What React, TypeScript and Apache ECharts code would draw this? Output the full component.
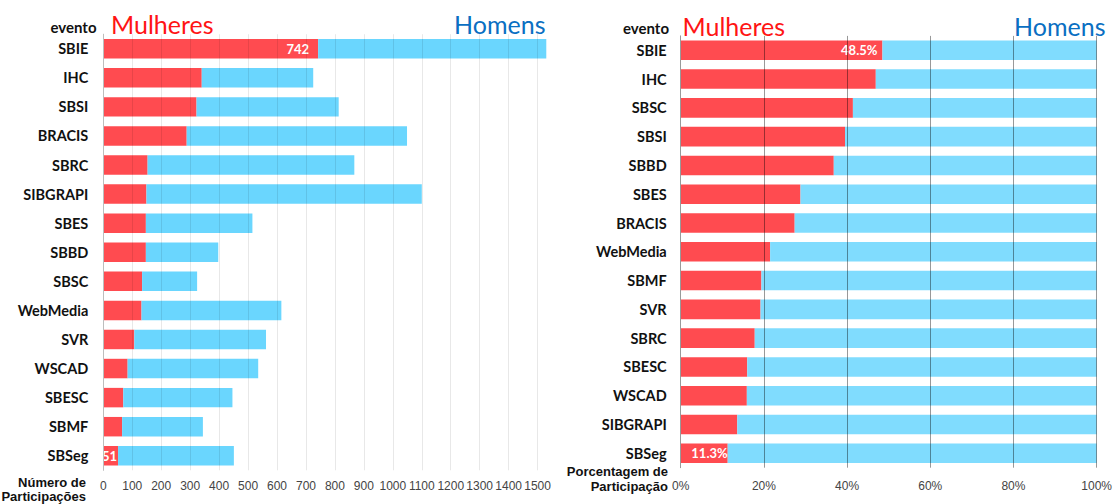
import React, { useEffect, useRef } from "react";
import * as echarts from "echarts";

// Left chart: number of participations
const countCategories = ["SBIE", "IHC", "SBSI", "BRACIS", "SBRC", "SIBGRAPI", "SBES", "SBBD", "SBSC", "WebMedia", "SVR", "WSCAD", "SBESC", "SBMF", "SBSeg"];
const womenCount = [742, 340, 322, 288, 153, 149, 147, 147, 134, 132, 107, 84, 69, 65, 51];
const menCount = [788, 385, 491, 761, 714, 951, 368, 250, 190, 483, 455, 451, 377, 279, 400];

// Right chart: percentage of participation
const pctCategories = ["SBIE", "IHC", "SBSC", "SBSI", "SBBD", "SBES", "BRACIS", "WebMedia", "SBMF", "SVR", "SBRC", "SBESC", "WSCAD", "SIBGRAPI", "SBSeg"];
const womenPct = [48.5, 46.9, 41.4, 39.5, 36.8, 28.8, 27.4, 21.5, 19.4, 19.2, 17.8, 16.0, 15.9, 13.6, 11.3];
const menPct = [51.5, 53.1, 58.6, 60.5, 63.2, 71.2, 72.6, 78.5, 80.6, 80.8, 82.2, 84.0, 84.1, 86.4, 88.7];

const countTicks = { min: 0, max: 1500, interval: 100 };
const pctTicks = { min: 0, max: 100, interval: 20 };

const RED = "#ff4b50";
const BLUE_L = "#6ad6fe";
const BLUE_R = "#80dcfe";
const CAT_FONT = "Lato, 'Open Sans', sans-serif";
const NARROW = "'Liberation Sans Narrow', 'Liberation Sans', Arial, sans-serif";

export default function App() {
  const ref = useRef<HTMLDivElement>(null);
  useEffect(() => {
    document.body.style.margin = "0";
    const chart = echarts.init(ref.current!, null, { renderer: "svg" });
    const labelIdxFirst = 0;
    const labelIdxLast = countCategories.length - 1;

    const womenCountData = womenCount.map((v, i) => {
      if (i === labelIdxFirst || i === labelIdxLast) {
        return {
          value: v,
          label: { show: true, position: "insideRight", distance: i === labelIdxFirst ? 9 : 1 },
        };
      }
      return v;
    });
    const womenPctData = womenPct.map((v, i) => {
      if (i === labelIdxFirst || i === labelIdxLast) {
        return {
          value: v,
          label: { show: true, position: "insideRight", distance: i === labelIdxFirst ? 5 : 0 },
        };
      }
      return v;
    });

    const barLabel = {
      show: false,
      color: "#ffffff",
      fontFamily: CAT_FONT,
      fontWeight: "bold" as const,
      fontSize: 13,
    };

    const titleText = (x: number, y: number, text: string, fill: string, align: string) => ({
      type: "text",
      x,
      y,
      style: { text, fill, font: `25px ${CAT_FONT}`, align, verticalAlign: "middle" },
    });
    const smallText = (x: number, y: number, text: string, font: string) => ({
      type: "text",
      x,
      y,
      style: { text, fill: "#111", font, align: "right", verticalAlign: "middle" },
    });

    chart.setOption({
      animation: false,
      backgroundColor: "#ffffff",
      grid: [
        { left: 103.3, top: 34.2, width: 434.3, height: 436.1 },
        { left: 680.7, top: 35.9, width: 416.6, height: 431.8 },
      ],
      xAxis: [
        {
          gridIndex: 0,
          type: "value",
          ...countTicks,
          z: 3,
          axisLine: { show: false },
          axisTick: { show: false },
          splitLine: { show: true, lineStyle: { color: "rgba(0,0,0,0.09)", width: 1 } },
          axisLabel: {
            color: "#444",
            fontFamily: NARROW,
            fontSize: 12,
            margin: 10,
            showMaxLabel: true,
            showMinLabel: true,
            hideOverlap: false,
            formatter: (v: number) => String(v),
          },
        },
        {
          gridIndex: 1,
          type: "value",
          ...pctTicks,
          z: 3,
          axisLine: { show: false },
          axisTick: { show: false },
          splitLine: { show: true, lineStyle: { color: "rgba(0,0,0,0.4)", width: 1 } },
          axisLabel: {
            color: "#444",
            fontFamily: NARROW,
            fontSize: 12,
            margin: 12,
            showMaxLabel: true,
            formatter: (v: number) => `${v}%`,
          },
        },
      ],
      yAxis: [
        {
          gridIndex: 0,
          type: "category",
          data: countCategories,
          inverse: true,
          z: 3,
          axisLine: { show: true, lineStyle: { color: "#bdbdbd", width: 1 } },
          axisTick: { show: false },
          axisLabel: { color: "#111", fontFamily: CAT_FONT, fontWeight: "bold", fontSize: 14.5, margin: 15 },
        },
        {
          gridIndex: 1,
          type: "category",
          data: pctCategories,
          inverse: true,
          z: 3,
          axisLine: { show: true, lineStyle: { color: "#9a9a9a", width: 1 } },
          axisTick: { show: false },
          axisLabel: { color: "#111", fontFamily: CAT_FONT, fontWeight: "bold", fontSize: 14.5, margin: 14 },
        },
      ],
      series: [
        {
          type: "bar",
          xAxisIndex: 0,
          yAxisIndex: 0,
          stack: "count",
          data: womenCountData,
          itemStyle: { color: RED },
          barCategoryGap: "33%",
          clip: false,
          label: barLabel,
        },
        {
          type: "bar",
          xAxisIndex: 0,
          yAxisIndex: 0,
          stack: "count",
          data: menCount,
          itemStyle: { color: BLUE_L },
          barCategoryGap: "33%",
          clip: false,
        },
        {
          type: "bar",
          xAxisIndex: 1,
          yAxisIndex: 1,
          stack: "pct",
          data: womenPctData,
          itemStyle: { color: RED },
          barCategoryGap: "32%",
          label: { ...barLabel, formatter: (p: any) => `${Number(p.value).toFixed(1)}%` },
        },
        {
          type: "bar",
          xAxisIndex: 1,
          yAxisIndex: 1,
          stack: "pct",
          data: menPct,
          itemStyle: { color: BLUE_R },
          barCategoryGap: "32%",
        },
      ],
      graphic: [
        titleText(111, 24, "Mulheres", "#ff1414", "left"),
        titleText(545.5, 24, "Homens", "#0a6fc2", "right"),
        titleText(682.5, 25.5, "Mulheres", "#ff1414", "left"),
        titleText(1105.5, 25.5, "Homens", "#0a6fc2", "right"),
        smallText(96.5, 26.5, "evento", `bold 15px ${CAT_FONT}`),
        smallText(669, 27.5, "evento", `bold 15px ${CAT_FONT}`),
        smallText(86, 482, "Número de", `bold 13px ${NARROW}`),
        smallText(86, 496, "Participações", `bold 13px ${NARROW}`),
        smallText(668, 471, "Porcentagem de", `bold 13px ${NARROW}`),
        smallText(668, 486, "Participação", `bold 13px ${NARROW}`),
      ],
    });
    return () => chart.dispose();
  }, []);
  return (
    <div
      ref={ref}
      style={{ position: "fixed", left: 0, top: 0, width: 1115, height: 504, background: "#fff" }}
    />
  );
}
